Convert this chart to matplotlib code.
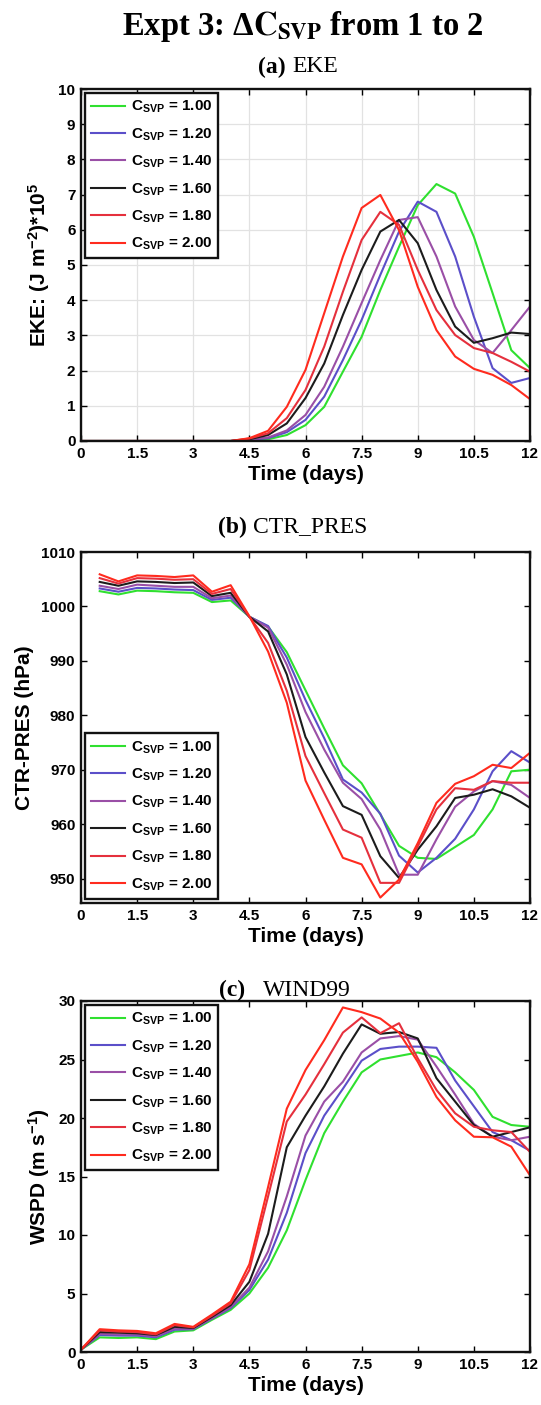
import matplotlib
matplotlib.use("Agg")
import matplotlib.pyplot as plt

plt.rcParams['font.family'] = ['Liberation Sans', 'DejaVu Sans']
plt.rcParams['font.weight'] = 'bold'
plt.rcParams['mathtext.fontset'] = 'custom'
plt.rcParams['mathtext.rm'] = 'Liberation Sans:bold'
plt.rcParams['mathtext.it'] = 'Liberation Sans:bold'
plt.rcParams['mathtext.bf'] = 'Liberation Sans:bold'
plt.rcParams['mathtext.sf'] = 'Liberation Sans:bold'

# ---------------- data ----------------
csvp_labels = ['1.00', '1.20', '1.40', '1.60', '1.80', '2.00']
colors = ['#2fe02f', '#5b4fc9', '#9a4fa6', '#1c1c1c', '#e5303d', '#ff2b1e']

days_eke = [0, 0.5, 1, 1.5, 2, 2.5, 3, 3.5, 4, 4.5, 5, 5.5, 6, 6.5, 7, 7.5,
            8, 8.5, 9, 9.5, 10, 10.5, 11, 11.5, 12]
eke_100 = [0, 0, 0, 0, 0, 0, 0, 0, 0, 0.02, 0.05, 0.17, 0.45, 0.97, 1.97, 2.96,
           4.29, 5.52, 6.70, 7.30, 7.03, 5.80, 4.20, 2.58, 2.07]
eke_120 = [0, 0, 0, 0, 0, 0, 0, 0, 0, 0.03, 0.08, 0.25, 0.60, 1.26, 2.30, 3.44,
           4.72, 5.95, 6.80, 6.51, 5.24, 3.53, 2.07, 1.65, 1.79]
eke_140 = [0, 0, 0, 0, 0, 0, 0, 0, 0, 0.04, 0.10, 0.30, 0.74, 1.54, 2.68, 3.92,
           5.14, 6.28, 6.36, 5.24, 3.82, 2.87, 2.50, 3.15, 3.82]
eke_160 = [0, 0, 0, 0, 0, 0, 0, 0, 0, 0.05, 0.17, 0.50, 1.22, 2.20, 3.58, 4.86,
           5.95, 6.28, 5.62, 4.29, 3.25, 2.79, 2.92, 3.08, 3.04]
eke_180 = [0, 0, 0, 0, 0, 0, 0, 0, 0, 0.07, 0.22, 0.65, 1.45, 2.68, 4.24, 5.71,
           6.51, 6.14, 4.86, 3.72, 3.01, 2.64, 2.50, 2.25, 1.97]
eke_200 = [0, 0, 0, 0, 0, 0, 0, 0, 0, 0.08, 0.29, 0.97, 2.02, 3.63, 5.24, 6.62,
           6.99, 5.99, 4.38, 3.15, 2.40, 2.05, 1.88, 1.59, 1.19]

days_pres = [0.5, 1, 1.5, 2, 2.5, 3, 3.5, 4, 4.5, 5, 5.5, 6, 6.5, 7, 7.5,
             8, 8.5, 9, 9.5, 10, 10.5, 11, 11.5, 12]
pres_100 = [1002.8, 1002.2, 1002.9, 1002.8, 1002.6, 1002.5, 1000.8, 1001.1, 998.1,
            996.3, 991.6, 984.6, 977.6, 970.8, 967.5, 961.8, 956.0, 953.8, 953.6,
            955.8, 958.0, 962.7, 969.7, 970.0]
pres_120 = [1003.3, 1002.7, 1003.4, 1003.3, 1003.1, 1003.0, 1001.2, 1001.6, 998.1,
            996.4, 990.6, 982.8, 975.8, 968.2, 965.8, 961.9, 954.2, 951.1, 953.8,
            957.3, 962.7, 969.7, 973.4, 971.3]
pres_140 = [1003.8, 1003.2, 1004.0, 1003.8, 1003.6, 1003.6, 1001.5, 1002.0, 998.1,
            996.1, 989.3, 980.6, 973.7, 967.6, 964.6, 959.0, 950.7, 950.7, 957.2,
            963.2, 966.0, 967.9, 967.2, 964.8]
pres_160 = [1004.5, 1003.8, 1004.6, 1004.5, 1004.3, 1004.4, 1001.9, 1002.5, 998.1,
            995.4, 987.5, 976.0, 969.5, 963.3, 961.7, 954.1, 950.1, 955.3, 959.6,
            964.8, 965.4, 966.4, 965.1, 963.0]
pres_180 = [1005.2, 1004.2, 1005.2, 1005.1, 1004.9, 1005.0, 1002.3, 1003.2, 998.1,
            993.3, 984.5, 972.5, 965.7, 959.0, 957.5, 949.2, 949.2, 955.9, 962.7,
            966.6, 966.3, 967.9, 967.6, 967.6]
pres_200 = [1005.9, 1004.6, 1005.7, 1005.6, 1005.4, 1005.7, 1002.7, 1003.9, 998.2,
            991.7, 982.3, 968.0, 960.8, 953.8, 952.6, 946.5, 949.8, 956.5, 963.9,
            967.4, 968.8, 970.9, 970.3, 973.1]

days_wind = days_eke
wind_100 = [0.2, 1.25, 1.2, 1.25, 1.1, 1.75, 1.85, 2.75, 3.6, 5.0, 7.2, 10.4, 14.7,
            18.7, 21.4, 23.9, 25.0, 25.3, 25.6, 25.2, 23.9, 22.4, 20.1, 19.4, 19.25]
wind_120 = [0.2, 1.45, 1.4, 1.4, 1.25, 1.9, 1.95, 2.85, 3.75, 5.3, 7.9, 11.9, 17.0,
            20.2, 22.5, 24.9, 25.9, 26.1, 26.1, 26.0, 23.2, 21.0, 18.8, 18.1, 17.2]
wind_140 = [0.2, 1.55, 1.5, 1.5, 1.35, 2.0, 2.0, 2.9, 3.85, 5.5, 8.6, 13.3, 18.5,
            21.4, 23.1, 25.6, 26.8, 27.0, 26.7, 24.4, 22.0, 19.5, 18.4, 18.1, 18.4]
wind_160 = [0.2, 1.7, 1.65, 1.6, 1.45, 2.15, 2.05, 3.0, 4.0, 6.0, 10.1, 17.5, 20.2,
            22.7, 25.5, 28.0, 27.2, 27.35, 26.8, 23.4, 21.4, 19.4, 18.4, 18.8, 19.2]
wind_180 = [0.2, 1.85, 1.75, 1.7, 1.5, 2.3, 2.1, 3.1, 4.15, 7.0, 13.3, 19.7, 22.0,
            24.6, 27.3, 28.6, 27.25, 28.1, 25.1, 22.4, 20.4, 19.25, 18.95, 18.8, 17.1]
wind_200 = [0.2, 1.95, 1.85, 1.8, 1.6, 2.4, 2.15, 3.2, 4.3, 7.5, 14.1, 20.8, 24.1,
            26.65, 29.45, 29.05, 28.5, 27.3, 24.8, 21.8, 19.8, 18.4, 18.35, 17.55, 15.1]

x_ticks = [0, 1.5, 3, 4.5, 6, 7.5, 9, 10.5, 12]
x_ticklabels = ['0', '1.5', '3', '4.5', '6', '7.5', '9', '10.5', '12']

# ---------------- figure ----------------
W, H = 541, 1405
fig = plt.figure(figsize=(W / 100, H / 100), dpi=100)


def axes_px(left, top, right, bottom):
    return fig.add_axes([left / W, 1 - bottom / H, (right - left) / W, (bottom - top) / H])


def style(ax, ylim, yticks, ylabel, grid):
    ax.set_xlim(0, 12)
    ax.set_ylim(*ylim)
    ax.set_xticks(x_ticks)
    ax.set_xticklabels(x_ticklabels)
    ax.set_yticks(yticks)
    ax.set_yticklabels([str(v) for v in yticks])
    ax.tick_params(direction='in', length=4, width=1, top=True, right=True,
                   labelsize=11, pad=4)
    for s in ax.spines.values():
        s.set_linewidth(1.7)
        s.set_color('#111111')
    ax.set_xlabel('Time (days)', fontsize=15, fontweight='bold', labelpad=3)
    ax.set_ylabel(ylabel, fontsize=15, fontweight='bold', labelpad=5)
    if grid:
        ax.grid(True, color='#e2e2e2', linewidth=0.9)
        ax.set_axisbelow(True)


def legend(ax, loc, anchor):
    leg = ax.legend(loc=loc, bbox_to_anchor=anchor, borderaxespad=0,
                    fontsize=11, handlelength=2.2, handletextpad=0.4,
                    labelspacing=0.72, borderpad=0.4, fancybox=False,
                    framealpha=1, edgecolor='#111111')
    leg.get_frame().set_linewidth(1.7)


series_a = [eke_100, eke_120, eke_140, eke_160, eke_180, eke_200]
series_b = [pres_100, pres_120, pres_140, pres_160, pres_180, pres_200]
series_c = [wind_100, wind_120, wind_140, wind_160, wind_180, wind_200]

labels = [r'$\mathrm{C}_{\mathrm{SVP}}$ = ' + v for v in csvp_labels]

# panel a
ax1 = axes_px(81, 89, 530, 441)
for ys, c, lab in zip(series_a, colors, labels):
    ax1.plot(days_eke, ys, color=c, lw=1.5, label=lab)
style(ax1, (0, 10), list(range(0, 11)), r'EKE: (J m$^{-2}$)*10$^{5}$', True)
legend(ax1, 'upper left', (0.009, 0.989))

# panel b
ax2 = axes_px(81, 552, 530, 903)
for ys, c, lab in zip(series_b, colors, labels):
    ax2.plot(days_pres, ys, color=c, lw=1.5, label=lab)
style(ax2, (945.5, 1010), [950, 960, 970, 980, 990, 1000, 1010], 'CTR-PRES (hPa)', False)
legend(ax2, 'lower left', (0.009, 0.012))

# panel c
ax3 = axes_px(81, 1001, 530, 1352)
for ys, c, lab in zip(series_c, colors, labels):
    ax3.plot(days_wind, ys, color=c, lw=1.5, label=lab)
style(ax3, (0, 30), [0, 5, 10, 15, 20, 25, 30], r'WSPD (m s$^{-1}$)', False)
legend(ax3, 'upper left', (0.009, 0.989))

# titles
fig.text(0.56, 1 - 26 / H, r'Expt 3: Δ$\mathbf{C}_{\mathbf{SVP}}$ from 1 to 2',
         ha='center', va='center', fontsize=23.5, fontweight='bold',
         family='Liberation Serif', math_fontfamily='stix')


def subtitle(y, tag, name):
    t1 = fig.text(0, 1 - y / H, tag, ha='right', va='center', fontsize=17,
                  fontweight='bold', family='Liberation Serif')
    t2 = fig.text(0, 1 - y / H, name, ha='left', va='center', fontsize=17,
                  fontweight='normal', family='Liberation Serif')
    return t1, t2


def place_subtitle(y, tag, name, xc):
    r = fig.canvas.get_renderer()
    t1, t2 = subtitle(y, tag, name)
    w1 = t1.get_window_extent(r).width
    w2 = t2.get_window_extent(r).width
    total = w1 + w2
    x0 = xc - total / 2
    t1.set_x((x0 + w1) / W)
    t2.set_x((x0 + w1) / W)


place_subtitle(67, '(a) ', 'EKE', 298)
place_subtitle(527, '(b) ', 'CTR_PRES', 293)
place_subtitle(990, '(c)   ', 'WIND99', 285)

fig.savefig('out.png', dpi=100)
